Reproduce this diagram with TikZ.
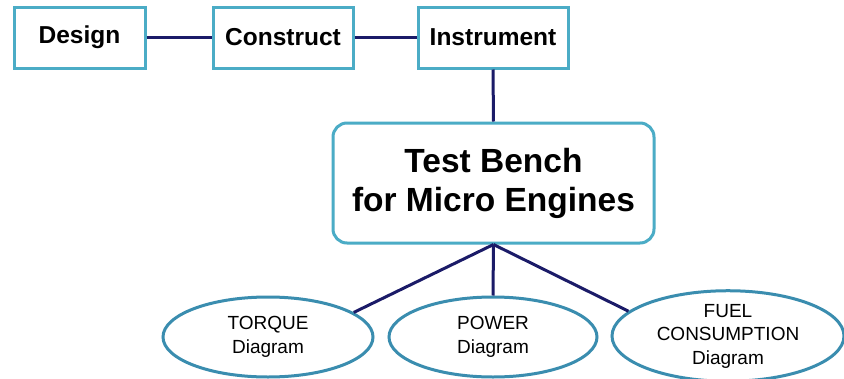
\documentclass[tikz,border=0pt]{standalone}
\definecolor{boxBorder}{HTML}{4BACC6}
\definecolor{ovalBorder}{HTML}{3A8DAF}
\definecolor{linkNavy}{HTML}{1B1B68}
\usepackage{fontspec}
\setmainfont{Liberation Sans}
\usepackage{tikz}
\usetikzlibrary{shapes.geometric}

\begin{document}
\begin{tikzpicture}[x=1pt, y=-1pt,
    stepbox/.style={draw=boxBorder, line width=3pt, fill=white, inner sep=0pt,
                    minimum height=61pt, font=\bfseries\fontsize{24.5}{28}\selectfont},
    benchbox/.style={draw=boxBorder, line width=3pt, fill=white, rounded corners=14pt,
                     minimum width=321pt, minimum height=120pt, align=center,
                     font=\bfseries\fontsize{33.5}{39}\selectfont},
    diagoval/.style={ellipse, draw=ovalBorder, line width=3pt, fill=white, inner sep=0pt,
                     minimum height=80pt, align=center, font=\fontsize{19}{23.5}\selectfont},
    link/.style={draw=linkNavy, line width=3pt}]
  \useasboundingbox[fill=white] (0,0) rectangle (844,378);

  % process chain on top
  \node[stepbox, minimum width=131pt] (design) at (79.5,37.5) {Design};
  \node[stepbox, minimum width=140pt] (construct) at (283,37.5) {Construct};
  \node[stepbox, minimum width=150pt] (instrument) at (493,37.5) {Instrument};

  % central bench
  \node[benchbox] (bench) at (493.5,183) {Test Bench\\for Micro Engines};

  % output diagrams
  \node[diagoval, minimum width=210pt] (torque) at (268,337) {TORQUE\\Diagram};
  \node[diagoval, minimum width=208pt] (power) at (493,337) {POWER\\Diagram};
  \node[diagoval, minimum width=232pt, minimum height=82pt] (fuel) at (728,336) {FUEL\\CONSUMPTION\\Diagram};

  \draw[link] (design.east) -- (construct.west);
  \draw[link] (construct.east) -- (instrument.west);
  \draw[link] (instrument.south) -- (bench.north);
  \draw[link] (bench.south) -- (torque.16);
  \draw[link] (bench.south) -- (power.north);
  \draw[link] (bench.south) -- (fuel.166);
\end{tikzpicture}
\end{document}
